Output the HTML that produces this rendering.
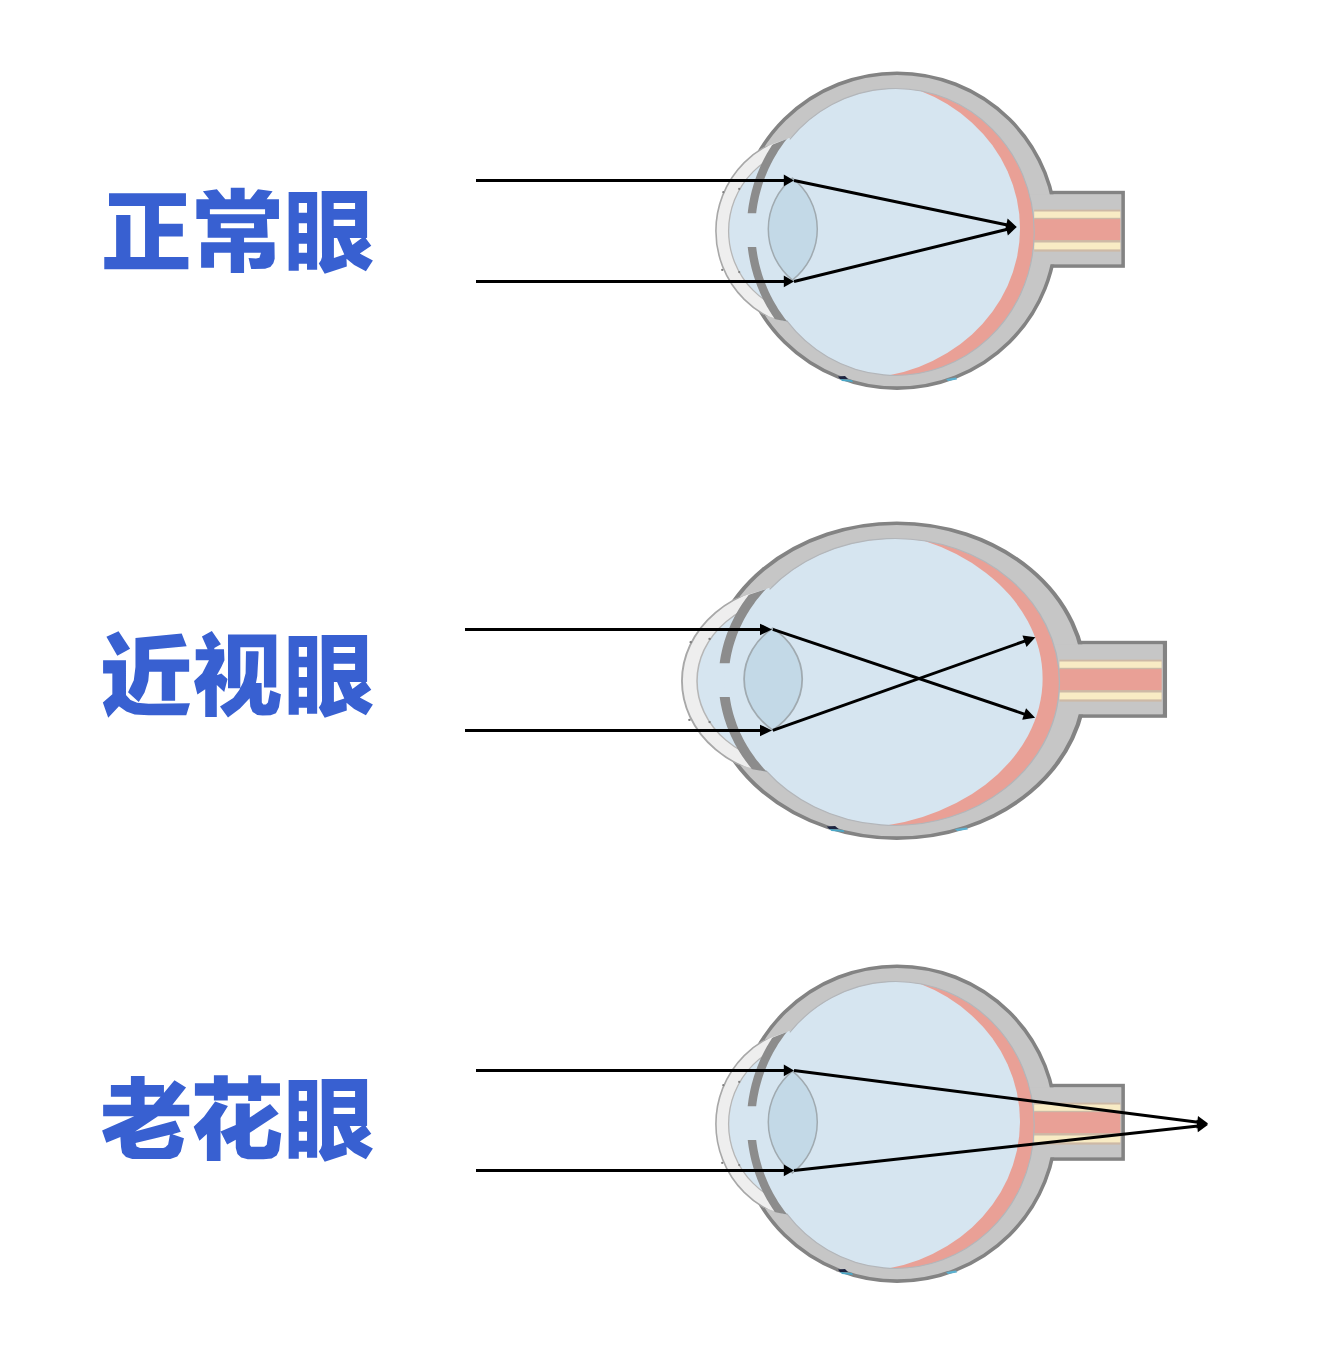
<!DOCTYPE html>
<html><head><meta charset="utf-8"><title>正常眼 近视眼 老花眼</title>
<style>html,body{margin:0;padding:0;background:#ffffff;}svg{display:block}</style></head>
<body>
<svg width="1332" height="1352" viewBox="0 0 1332 1352">
<defs>
<clipPath id="scin"><ellipse cx="895.62" cy="231.94" rx="138.55" ry="143.47"/></clipPath>
<clipPath id="gapclip"><rect x="600" y="0" width="400" height="213.3"/><rect x="600" y="246.9" width="400" height="300"/></clipPath>
<clipPath id="leftclip"><rect x="600" y="0" width="200" height="500"/></clipPath>
<clipPath id="corclip"><path d="M600,205.0 L900,99.1 L900,353.6 L600,268.6Z"/></clipPath>
<clipPath id="irisclip"><path d="M600,212.49 L900,94.59 L900,344.57 L600,283.67Z"/></clipPath>
<g id="eye">
<rect x="1030" y="192.60000000000002" width="93.10" height="73.40" fill="#c6c6c6" stroke="#838383" stroke-width="3.6"/>
<ellipse cx="897.02" cy="230.66" rx="159.01" ry="157.48" fill="#c6c6c6" stroke="#838383" stroke-width="3.6"/>
<rect x="1020" y="194.4" width="101.09999999999991" height="69.80" fill="#c6c6c6"/>
<rect x="1034.2" y="209.6" width="86.1" height="42" fill="#cdb9a6"/>
<rect x="1034.2" y="211.5" width="86.1" height="6.3" fill="#f8ebc4"/>
<rect x="1030" y="219.2" width="90.3" height="20.9" fill="#e9a096"/>
<rect x="1034.2" y="242.5" width="86.1" height="6.9" fill="#f8ebc4"/>
<circle cx="812.6" cy="231" r="96.7" fill="#eeeeee" stroke="#a8a8a8" stroke-width="1.6" clip-path="url(#corclip)"/>
<ellipse cx="895.62" cy="231.94" rx="138.55" ry="143.47" fill="#e9a096"/>
<circle cx="812.6" cy="231" r="84" fill="#d6e5f0" stroke="#b6b6b6" stroke-width="1.3"/>
<ellipse cx="856.11" cy="228.58" rx="163.89" ry="149.78" fill="#d6e5f0" clip-path="url(#scin)"/>
<g clip-path="url(#leftclip)"><circle cx="902" cy="230" r="150.5" fill="#d6e5f0" clip-path="url(#irisclip)"/></g>
<path d="M789.80,139.34 A138.55,143.47 0 1 1 786.74,320.66" fill="none" stroke="#b2b6ba" stroke-width="1.1"/>
<g clip-path="url(#irisclip)"><g clip-path="url(#gapclip)"><path d="M787.56,125.16 L785.88,127.03 L784.22,128.93 L782.60,130.85 L781.01,132.80 L779.44,134.78 L777.92,136.78 L776.42,138.80 L774.96,140.85 L773.53,142.92 L772.13,145.02 L770.77,147.14 L769.45,149.28 L768.15,151.44 L766.90,153.62 L765.68,155.82 L764.49,158.04 L763.34,160.28 L762.23,162.54 L761.15,164.81 L760.11,167.11 L759.11,169.42 L758.15,171.74 L757.22,174.08 L756.34,176.44 L755.49,178.81 L754.67,181.19 L753.90,183.59 L753.17,185.99 L752.48,188.41 L751.82,190.84 L751.21,193.29 L750.63,195.74 L750.09,198.20 L749.60,200.66 L749.14,203.14 L748.73,205.62 L748.35,208.11 L748.02,210.61 L747.72,213.11 L747.47,215.61 L755.83,216.39 L756.07,214.02 L756.35,211.66 L756.67,209.30 L757.02,206.94 L757.42,204.59 L757.85,202.25 L758.32,199.92 L758.82,197.59 L759.37,195.27 L759.95,192.96 L760.57,190.66 L761.22,188.38 L761.92,186.10 L762.65,183.83 L763.42,181.58 L764.22,179.34 L765.06,177.11 L765.94,174.89 L766.85,172.70 L767.79,170.51 L768.78,168.34 L769.79,166.19 L770.85,164.05 L771.93,161.93 L773.05,159.83 L774.21,157.75 L775.40,155.69 L776.62,153.65 L777.87,151.62 L779.16,149.62 L780.48,147.64 L781.83,145.68 L783.22,143.74 L784.63,141.82 L786.08,139.93 L787.55,138.06 L789.06,136.22 L790.60,134.40 L792.16,132.61 L793.76,130.84Z" fill="#8c8c8c"/>
<path d="M747.47,244.39 L747.72,246.89 L748.02,249.39 L748.35,251.89 L748.73,254.38 L749.14,256.86 L749.60,259.34 L750.09,261.80 L750.63,264.26 L751.21,266.71 L751.82,269.16 L752.48,271.59 L753.17,274.01 L753.90,276.41 L754.67,278.81 L755.49,281.19 L756.34,283.56 L757.22,285.92 L758.15,288.26 L759.11,290.58 L760.11,292.89 L761.15,295.19 L762.23,297.46 L763.34,299.72 L764.49,301.96 L765.68,304.18 L766.90,306.38 L768.15,308.56 L769.45,310.72 L770.77,312.86 L772.13,314.98 L773.53,317.08 L774.96,319.15 L776.42,321.20 L777.92,323.22 L779.44,325.22 L781.01,327.20 L782.60,329.15 L784.22,331.07 L785.88,332.97 L787.56,334.84 L793.76,329.16 L792.16,327.39 L790.60,325.60 L789.06,323.78 L787.55,321.94 L786.08,320.07 L784.63,318.18 L783.22,316.26 L781.83,314.32 L780.48,312.36 L779.16,310.38 L777.87,308.38 L776.62,306.35 L775.40,304.31 L774.21,302.25 L773.05,300.17 L771.93,298.07 L770.85,295.95 L769.79,293.81 L768.78,291.66 L767.79,289.49 L766.85,287.30 L765.94,285.11 L765.06,282.89 L764.22,280.66 L763.42,278.42 L762.65,276.17 L761.92,273.90 L761.22,271.62 L760.57,269.34 L759.95,267.04 L759.37,264.73 L758.82,262.41 L758.32,260.08 L757.85,257.75 L757.42,255.41 L757.02,253.06 L756.67,250.70 L756.35,248.34 L756.07,245.98 L755.83,243.61Z" fill="#8c8c8c"/></g></g>
<circle cx="723.3" cy="192.2" r="1.1" fill="#808080"/>
<circle cx="739.2" cy="188.9" r="1.1" fill="#808080"/>
<circle cx="722.2" cy="269.9" r="1.1" fill="#808080"/>
<circle cx="739.2" cy="272.1" r="1.1" fill="#808080"/>
<path d="M792.4,178.2 A65.8,65.8 0 0 0 792.4,280 A64.5,64.5 0 0 0 792.4,178.2Z" fill="#c3d9e7" stroke="#a0aab0" stroke-width="1.5"/>
<path d="M838,376.5 L845,376 L848,379 L840,379Z" fill="#1e2440"/>
<path d="M840,379 L852,380 L853,382 L842,381Z" fill="#4aa8c8"/>
<path d="M946,379 L956,377.5 L957,379.5 L948,381Z" fill="#5ab0d0"/>
</g>
</defs>
<rect width="1332" height="1352" fill="#ffffff"/>
<use href="#eye"/>
<use href="#eye" transform="matrix(1.186 0 0 1 -167.1 450)"/>
<use href="#eye" transform="translate(0 893)"/>
<line x1="476.00" y1="180.45" x2="784.80" y2="180.45" stroke="#000" stroke-width="3"/><path d="M794.00,180.45 L783.80,186.35 L783.80,174.55Z" fill="#000"/>
<line x1="476.00" y1="281.45" x2="784.80" y2="281.45" stroke="#000" stroke-width="3"/><path d="M794.00,281.45 L783.80,287.35 L783.80,275.55Z" fill="#000"/>
<line x1="794.00" y1="180.45" x2="1007.30" y2="224.94" stroke="#000" stroke-width="3"/><path d="M1016.70,226.90 L1005.04,230.90 L1007.61,218.57Z" fill="#000"/>
<line x1="794.00" y1="281.45" x2="1007.38" y2="229.18" stroke="#000" stroke-width="3"/><path d="M1016.70,226.90 L1007.90,235.54 L1004.91,223.30Z" fill="#000"/>
<line x1="465.00" y1="629.45" x2="761.00" y2="629.45" stroke="#000" stroke-width="3"/><path d="M772.00,629.45 L760.00,635.25 L760.00,623.65Z" fill="#000"/>
<line x1="465.00" y1="730.45" x2="761.00" y2="730.45" stroke="#000" stroke-width="3"/><path d="M772.00,730.45 L760.00,736.25 L760.00,724.65Z" fill="#000"/>
<line x1="772.80" y1="629.45" x2="1025.05" y2="714.32" stroke="#000" stroke-width="3"/><path d="M1035.10,717.70 L1022.16,719.78 L1026.05,708.22Z" fill="#000"/>
<line x1="772.80" y1="730.45" x2="1025.41" y2="640.84" stroke="#000" stroke-width="3"/><path d="M1035.40,637.30 L1026.51,646.93 L1022.43,635.43Z" fill="#000"/>
<line x1="476.00" y1="1070.45" x2="784.80" y2="1070.45" stroke="#000" stroke-width="3"/><path d="M794.00,1070.45 L783.80,1076.35 L783.80,1064.55Z" fill="#000"/>
<line x1="476.00" y1="1170.45" x2="784.80" y2="1170.45" stroke="#000" stroke-width="3"/><path d="M794.00,1170.45 L783.80,1176.35 L783.80,1164.55Z" fill="#000"/>
<line x1="794.00" y1="1070.45" x2="1198.18" y2="1122.33" stroke="#000" stroke-width="3"/><path d="M1208.10,1123.60 L1196.39,1128.45 L1197.99,1115.95Z" fill="#000"/>
<line x1="794.00" y1="1170.45" x2="1198.16" y2="1125.90" stroke="#000" stroke-width="3"/><path d="M1208.10,1124.80 L1197.86,1132.27 L1196.48,1119.74Z" fill="#000"/>
<g fill="#3860d1">
<path d="M109.01,193.14 L185.96,193.14 L185.96,205.90 L109.01,205.90ZM145.05,205.53 L158.93,205.53 L158.93,257.33 L145.05,257.33ZM158.56,223.77 L182.81,223.77 L182.81,236.46 L158.56,236.46ZM116.14,215.06 L130.41,215.06 L130.41,257.33 L116.14,257.33ZM104.28,256.95 L188.36,256.95 L188.36,269.19 L104.28,269.19ZM196.38,199.14 L209.14,199.14 L202.91,191.26 L216.88,189.23 L225.29,199.14 L230.77,199.14 L230.77,187.73 L244.65,187.73 L244.65,199.14 L250.06,199.14 L257.94,189.23 L272.58,191.26 L266.58,199.14 L278.96,199.14 L278.96,218.89 L266.95,218.89 L267.70,237.66 L244.05,237.66 L244.05,242.16 L274.46,242.16 L274.68,258.83 L273.33,263.33 L270.33,267.09 L265.08,268.81 L251.19,268.96 L248.56,258.08 L256.07,258.53 L259.44,257.70 L260.95,252.67 L244.05,252.67 L244.05,273.09 L230.77,273.09 L230.77,252.67 L214.02,252.67 L214.02,267.69 L201.11,267.69 L201.11,242.16 L230.77,242.16 L230.77,237.66 L207.64,237.66 L207.64,218.89 L196.38,218.89ZM209.89,214.16 L265.08,214.16 L265.08,209.28 L209.89,209.28ZM220.78,228.20 L254.04,228.20 L254.04,223.17 L220.78,223.17ZM106.40,636.80 L118.54,631.27 L130.10,648.77 L117.30,655.79ZM103.09,660.34 L125.97,660.34 L125.97,695.02 L130.51,699.98 L137.12,702.87 L148.68,703.69 L189.97,703.28 L186.25,715.25 L148.68,715.25 L134.64,714.43 L126.38,711.54 L118.95,706.17 L108.21,717.73 L102.85,702.45 L112.34,694.20 L112.34,673.55 L103.09,673.55ZM135.47,638.04 L181.71,633.50 L186.67,646.30 L149.09,649.77 L149.09,659.51 L189.14,659.51 L189.14,671.73 L175.11,671.73 L175.11,700.80 L161.73,700.80 L161.73,671.73 L149.09,671.73 L148.27,680.98 L144.55,692.54 L138.77,702.04 L128.03,692.13 L133.81,680.16 L135.47,666.94ZM201.93,636.39 L211.84,631.02 L220.92,644.23 L214.32,647.95 L214.32,649.60 L207.71,649.60ZM195.74,649.19 L223.98,649.19 L224.47,660.34 L221.34,666.94 L216.79,675.37 L221.34,673.55 L227.53,678.92 L224.23,691.88 L216.79,685.11 L216.79,716.91 L205.23,716.91 L205.23,689.24 L197.39,694.61 L194.08,680.98 L202.34,673.14 L208.95,660.34 L195.74,660.34ZM227.99,634.53 L276.26,634.53 L276.26,687.59 L263.94,687.59 L263.94,647.18 L240.31,647.18 L240.31,688.26 L227.99,688.26ZM245.97,651.17 L258.28,651.17 L258.62,652.30 L257.28,675.94 L255.95,682.93 L261.61,682.93 L261.81,702.57 L263.28,704.57 L265.94,704.57 L267.94,702.57 L270.27,690.25 L280.92,694.25 L278.92,707.23 L275.93,713.22 L270.60,715.22 L262.61,715.55 L257.28,714.89 L252.62,711.89 L250.29,706.56 L249.63,698.24 L239.97,708.56 L227.99,717.55 L220.00,706.56 L233.32,697.91 L239.31,689.92 L243.30,681.93 L245.63,673.28ZM130.91,1075.97 L144.61,1075.97 L144.61,1105.13 L130.91,1105.13ZM110.89,1085.11 L163.94,1085.11 L163.94,1096.70 L110.89,1096.70ZM103.16,1104.78 L189.23,1104.78 L189.23,1116.37 L103.16,1116.37ZM174.47,1080.19 L186.07,1087.56 L172.02,1105.13 L153.05,1105.13 L160.42,1097.05 L164.29,1092.48ZM134.78,1116.02 L158.32,1116.02 L146.37,1124.10 L135.13,1131.48 L175.53,1120.59 L180.80,1131.83 L172.37,1134.29 L183.96,1138.15 L180.80,1151.50 L177.29,1156.42 L170.26,1158.88 L132.32,1158.88 L126.00,1157.12 L122.13,1152.91 L121.08,1147.29 L120.38,1137.10 L106.32,1142.72 L102.11,1130.42ZM136.53,1146.58 L140.05,1147.99 L163.23,1147.99 L165.34,1147.29 L168.15,1144.47 L169.91,1134.64 L135.48,1143.07ZM194.91,1083.28 L279.97,1083.28 L279.97,1095.67 L194.91,1095.67ZM213.90,1075.27 L227.78,1075.27 L227.78,1100.62 L213.90,1100.62ZM248.18,1075.27 L261.14,1075.27 L261.14,1101.03 L248.18,1101.03ZM215.14,1101.45 L227.94,1105.99 L220.51,1117.96 L220.51,1160.91 L206.88,1160.91 L206.88,1134.07 L199.45,1140.67 L193.67,1126.63 L203.99,1116.72ZM220.51,1131.59 L235.79,1124.98 L235.79,1103.51 L249.83,1103.51 L249.83,1117.55 L270.06,1103.92 L278.73,1113.83 L249.83,1132.83 L249.83,1144.80 L251.07,1146.87 L264.28,1146.87 L266.76,1144.80 L268.82,1129.11 L281.21,1133.24 L279.14,1150.58 L276.67,1155.54 L271.71,1158.43 L263.45,1159.25 L247.76,1159.25 L241.16,1157.60 L237.44,1153.89 L235.79,1148.11 L235.79,1139.85 L227.12,1144.39ZM288.63,192.01 L317.16,192.01 L317.16,269.71 L307.03,269.71 L307.03,263.71 L298.77,263.71 L298.77,270.84 L288.63,270.84ZM321.67,191.04 L367.09,191.04 L367.09,237.80 L365.70,238.30 L371.30,245.80 L359.80,253.60 L372.90,260.60 L365.90,271.20 L354.20,265.10 L346.50,258.80 L346.80,266.50 L324.70,273.70 L318.80,263.60 L320.90,260.60 L322.00,257.00ZM298.77,212.66 L307.03,212.66 L307.03,202.90 L298.77,202.90ZM298.77,232.93 L307.03,232.93 L307.03,223.17 L298.77,223.17ZM298.77,252.82 L307.03,252.82 L307.03,243.81 L298.77,243.81ZM333.68,208.90 L355.08,208.90 L355.08,202.90 L333.68,202.90ZM333.68,225.95 L355.08,225.95 L355.08,219.79 L333.68,219.79ZM333.90,257.90 L344.30,254.50 L337.10,238.10 L333.90,238.10ZM352.40,244.90 L361.80,238.10 L349.70,238.10ZM288.63,636.01 L317.16,636.01 L317.16,713.71 L307.03,713.71 L307.03,707.71 L298.77,707.71 L298.77,714.84 L288.63,714.84ZM321.67,635.04 L367.09,635.04 L367.09,681.80 L365.70,682.30 L371.30,689.80 L359.80,697.60 L372.90,704.60 L365.90,715.20 L354.20,709.10 L346.50,702.80 L346.80,710.50 L324.70,717.70 L318.80,707.60 L320.90,704.60 L322.00,701.00ZM298.77,656.66 L307.03,656.66 L307.03,646.90 L298.77,646.90ZM298.77,676.93 L307.03,676.93 L307.03,667.17 L298.77,667.17ZM298.77,696.82 L307.03,696.82 L307.03,687.81 L298.77,687.81ZM333.68,652.90 L355.08,652.90 L355.08,646.90 L333.68,646.90ZM333.68,669.95 L355.08,669.95 L355.08,663.79 L333.68,663.79ZM333.90,701.90 L344.30,698.50 L337.10,682.10 L333.90,682.10ZM352.40,688.90 L361.80,682.10 L349.70,682.10ZM288.63,1080.01 L317.16,1080.01 L317.16,1157.71 L307.03,1157.71 L307.03,1151.71 L298.77,1151.71 L298.77,1158.84 L288.63,1158.84ZM321.67,1079.04 L367.09,1079.04 L367.09,1125.80 L365.70,1126.30 L371.30,1133.80 L359.80,1141.60 L372.90,1148.60 L365.90,1159.20 L354.20,1153.10 L346.50,1146.80 L346.80,1154.50 L324.70,1161.70 L318.80,1151.60 L320.90,1148.60 L322.00,1145.00ZM298.77,1100.66 L307.03,1100.66 L307.03,1090.90 L298.77,1090.90ZM298.77,1120.93 L307.03,1120.93 L307.03,1111.17 L298.77,1111.17ZM298.77,1140.82 L307.03,1140.82 L307.03,1131.81 L298.77,1131.81ZM333.68,1096.90 L355.08,1096.90 L355.08,1090.90 L333.68,1090.90ZM333.68,1113.95 L355.08,1113.95 L355.08,1107.79 L333.68,1107.79ZM333.90,1145.90 L344.30,1142.50 L337.10,1126.10 L333.90,1126.10ZM352.40,1132.90 L361.80,1126.10 L349.70,1126.10Z"/>
</g>
</svg>
</body></html>
